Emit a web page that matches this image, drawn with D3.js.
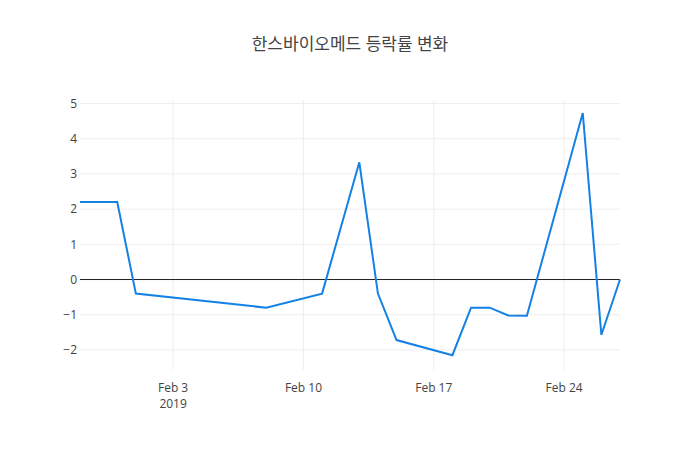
<!DOCTYPE html>
<html><head><meta charset="utf-8">
<script src="https://cdn.jsdelivr.net/npm/d3@7"></script>
<style>body{margin:0;background:#fff}text{font-family:"Open Sans","Noto Sans CJK KR",sans-serif}</style>
</head><body><div id="chart"></div>
<script>
const dates = ["2019-01-29","2019-01-31","2019-02-01","2019-02-08","2019-02-11","2019-02-13","2019-02-14","2019-02-15","2019-02-18","2019-02-19","2019-02-20","2019-02-21","2019-02-22","2019-02-25","2019-02-26","2019-02-27"];
const values = [2.2,2.2,-0.4,-0.8,-0.4,3.33,-0.4,-1.72,-2.15,-0.8,-0.8,-1.02,-1.03,4.73,-1.57,0];
const yTicks = [-2,-1,0,1,2,3,4,5];
const xTicks = ["2019-02-03","2019-02-10","2019-02-17","2019-02-24"];

const W = 700, H = 450, m = {top:100, right:80, bottom:80, left:80};
const parse = d3.timeParse("%Y-%m-%d");
const svg = d3.select("#chart").append("svg").attr("width", W).attr("height", H);

const x = d3.scaleTime().domain([parse(dates[0]), parse(dates[dates.length-1])]).range([m.left, W-m.right]);
const y = d3.scaleLinear().domain([-2.57, 5.1]).range([H-m.bottom, m.top]);

// grid
svg.append("g").selectAll("line").data(xTicks).enter().append("line")
  .attr("x1", d => x(parse(d))).attr("x2", d => x(parse(d)))
  .attr("y1", m.top).attr("y2", H-m.bottom).attr("stroke", "#eee");
svg.append("g").selectAll("line").data(yTicks.filter(d => d !== 0)).enter().append("line")
  .attr("x1", m.left).attr("x2", W-m.right)
  .attr("y1", d => y(d)).attr("y2", d => y(d)).attr("stroke", "#eee");
svg.append("line").attr("x1", m.left).attr("x2", W-m.right)
  .attr("y1", y(0)).attr("y2", y(0)).attr("stroke", "#222");

// tick labels
svg.append("g").selectAll("text").data(yTicks).enter().append("text")
  .attr("x", m.left-3).attr("y", d => y(d)).attr("dy", "0.35em")
  .attr("text-anchor", "end").attr("font-size", 12).attr("fill", "#444")
  .text(d => d < 0 ? "\u2212" + Math.abs(d) : d);
const fmt = d3.timeFormat("%b %-d");
svg.append("g").selectAll("text").data(xTicks).enter().append("text")
  .attr("x", d => x(parse(d))).attr("y", H-m.bottom+22)
  .attr("text-anchor", "middle").attr("font-size", 12).attr("fill", "#444")
  .text(d => fmt(parse(d)));
svg.append("text").attr("x", x(parse(xTicks[0]))).attr("y", H-m.bottom+38)
  .attr("text-anchor", "middle").attr("font-size", 12).attr("fill", "#444").text("2019");

// line
svg.append("path").datum(dates.map((d, i) => [parse(d), values[i]]))
  .attr("fill", "none").attr("stroke", "#1481e6").attr("stroke-width", 2)
  .attr("d", d3.line().x(d => x(d[0])).y(d => y(d[1])));

svg.append("text").attr("x", W/2).attr("y", 50).attr("text-anchor", "middle")
  .attr("font-size", 17).attr("fill", "#444").text("한스바이오메드 등락률 변화");
</script></body></html>
